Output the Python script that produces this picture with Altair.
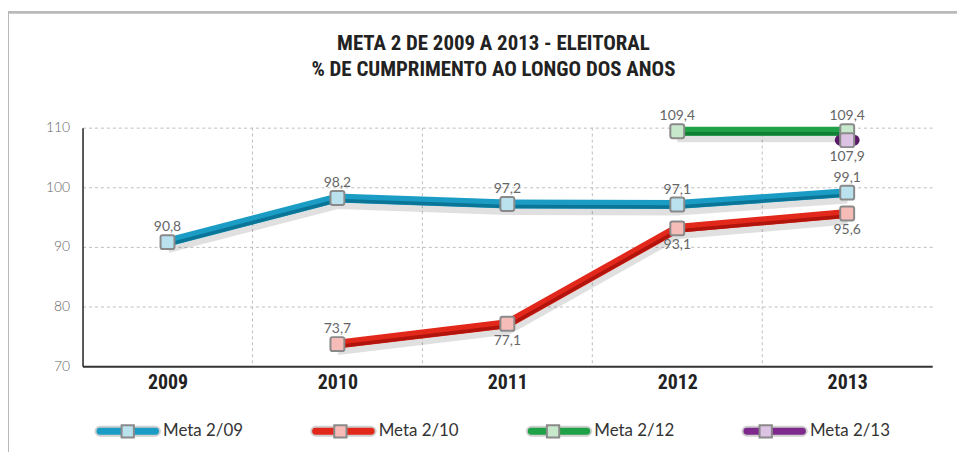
import altair as alt
import pandas as pd

years = [2009, 2010, 2011, 2012, 2013]
series_names = ["Meta 2/09", "Meta 2/10", "Meta 2/12", "Meta 2/13"]
meta_2_09 = [90.8, 98.2, 97.2, 97.1, 99.1]
meta_2_10 = [None, 73.7, 77.1, 93.1, 95.6]
meta_2_12 = [None, None, None, 109.4, 109.4]
meta_2_13 = [None, None, None, None, 107.9]
y_ticks = [70, 80, 90, 100, 110]
title_lines = ["META 2 DE 2009 A 2013 - ELEITORAL", "% DE CUMPRIMENTO AO LONGO DOS ANOS"]

# styles
line_colors = ["#1b9cc5", "#e2281b", "#1fa247", "#7d2a8c"]
dark_colors = ["#0b7597", "#b0140d", "#0f7f34", "#5b1a68"]
light_colors = ["#b9e1ee", "#f6bcb8", "#c8e8cc", "#dcc3e3"]
below = {("Meta 2/10", 2011), ("Meta 2/10", 2012), ("Meta 2/10", 2013), ("Meta 2/13", 2013)}

rows = []
for name, vals, lc, dark in zip(series_names, [meta_2_09, meta_2_10, meta_2_12, meta_2_13],
                                line_colors, dark_colors):
    for yr, v in zip(years, vals):
        if v is None:
            continue
        rows.append({
            "series": name, "serie": name, "year": yr, "value": v, "lc": lc, "dark": dark,
            "label": f"{v:.1f}".replace(".", ","),
            "pos": "below" if (name, yr) in below else "above",
        })
df = pd.DataFrame(rows)
counts = df.groupby("series")["year"].transform("count")
df["single"] = counts == 1
bounds = pd.DataFrame({"b": [(a + b) / 2 for a, b in zip(years[:-1], years[1:])]})

FONT = "Lato, Open Sans, sans-serif"
NARROW = "Roboto Condensed, Liberation Sans Narrow, DejaVu Sans Condensed, Roboto, sans-serif"

x_enc = alt.X("year:Q", scale=alt.Scale(domain=[2008.5, 2013.5], nice=False, zero=False),
              axis=alt.Axis(values=years, format="d", title=None, grid=False, ticks=False,
                            labelFont=NARROW, labelFontWeight="bold", labelFontSize=20,
                            labelColor="#222", labelPadding=7, domainColor="#333",
                            domainWidth=2))
y_enc = alt.Y("value:Q", scale=alt.Scale(domain=[70, 110], nice=False, zero=False),
              axis=alt.Axis(values=y_ticks, title=None, grid=True, gridDash=[3, 3],
                            gridColor="#bdbdbd", ticks=False, labelFont=FONT,
                            labelFontWeight=300, labelFontSize=14, labelColor="#666",
                            labelPadding=13, domainColor="#222", domainWidth=1.5))

bar_path = "M-1,0L1,0"
h = 0.138
legend_bar = (f"M-0.86,-{h}L0.86,-{h}A{h},{h} 0 0 1 0.86,{h}"
              f"L-0.86,{h}A{h},{h} 0 0 1 -0.86,-{h}Z")
sq = 0.19
sq_path = f"M-{sq},-{sq}L{sq},-{sq}L{sq},{sq}L-{sq},{sq}Z"
rsq_path = ("M-0.7,-1L0.7,-1A0.3,0.3 0 0 1 1,-0.7L1,0.7A0.3,0.3 0 0 1 0.7,1"
            "L-0.7,1A0.3,0.3 0 0 1 -1,0.7L-1,-0.7A0.3,0.3 0 0 1 -0.7,-1Z")

frame_top = alt.Chart(bounds).mark_rule(color="#b8b8b8", strokeWidth=2).encode(
    x=alt.value(-75), x2=alt.value(880), y=alt.value(-116))
frame_left = alt.Chart(bounds).mark_rule(color="#b8b8b8", strokeWidth=2).encode(
    x=alt.value(-75), y=alt.value(-116), y2=alt.value(330))

vgrid = alt.Chart(bounds).mark_rule(strokeDash=[3, 3], color="#bdbdbd").encode(
    x=alt.X("b:Q", scale=alt.Scale(domain=[2008.5, 2013.5], nice=False, zero=False)))

base = alt.Chart(df).encode(x=x_enc, y=y_enc)

shadow = base.mark_line(strokeWidth=14, color="#000", opacity=0.12, yOffset=4).encode(
    detail="series:N", order="year:Q")

LEG = dict(orient="none", legendX=12, legendY=272, direction="horizontal", columns=4,
           title=None, symbolSize=4225, labelFont=FONT, labelFontSize=17,
           labelOffset=2, gridAlign="all", symbolStrokeWidth=2, symbolOpacity=1)

main = base.mark_line(strokeWidth=9).encode(
    stroke=alt.Stroke("lc:N", scale=None), detail="series:N", order="year:Q")

stripe = base.mark_line(strokeWidth=3.5, yOffset=2.5).encode(
    stroke=alt.Stroke("dark:N", scale=None), detail="series:N", order="year:Q")

# invisible layer that carries the line-colour legend (filled bar symbols)
legend_carrier = base.mark_point(filled=True, opacity=0, size=1).encode(
    color=alt.Color("series:N", scale=alt.Scale(domain=series_names, range=line_colors),
                    legend=alt.Legend(symbolType=legend_bar, symbolStrokeColor="#d0d0d0",
                                      labelColor="#333", zindex=0, columnPadding=64,
                                      **LEG)))

blob = base.transform_filter("datum.single").mark_point(
    shape=bar_path, size=196, strokeWidth=11, strokeCap="round", opacity=1).encode(
    stroke=alt.Stroke("dark:N", scale=None))

points = base.mark_point(shape=rsq_path, size=196, filled=True, opacity=1, fillOpacity=1,
                         stroke="#8a8a8a", strokeWidth=2).encode(
    fill=alt.Fill("serie:N", scale=alt.Scale(range=light_colors),
                  legend=alt.Legend(symbolType=sq_path, symbolStrokeColor="#8a8a8a",
                                    labelExpr="''", zindex=1, columnPadding=145, **LEG)))

txt_above = base.transform_filter("datum.pos == 'above'").mark_text(
    dy=-15, font=FONT, fontSize=14, color="#666").encode(text="label:N")
txt_below = base.transform_filter("datum.pos == 'below'").mark_text(
    dy=17, font=FONT, fontSize=14, color="#666").encode(text="label:N")

chart = alt.layer(frame_top, frame_left, vgrid, shadow, main, stripe, legend_carrier, blob,
                  points, txt_above, txt_below).properties(
    width=855, height=240,
    autosize=alt.AutoSizeParams(type="none"),
    padding={"left": 75, "top": 119, "right": 25, "bottom": 85},
    title=alt.TitleParams(text=title_lines, anchor="middle", font=NARROW, fontSize=21,
                          fontWeight="bold", color="#222", lineHeight=26, offset=-69,
                          dx=-14),
).resolve_legend(fill="independent", color="independent").configure_view(stroke=None)

chart.save("out.html", embed_options={"renderer": "svg", "actions": False})
